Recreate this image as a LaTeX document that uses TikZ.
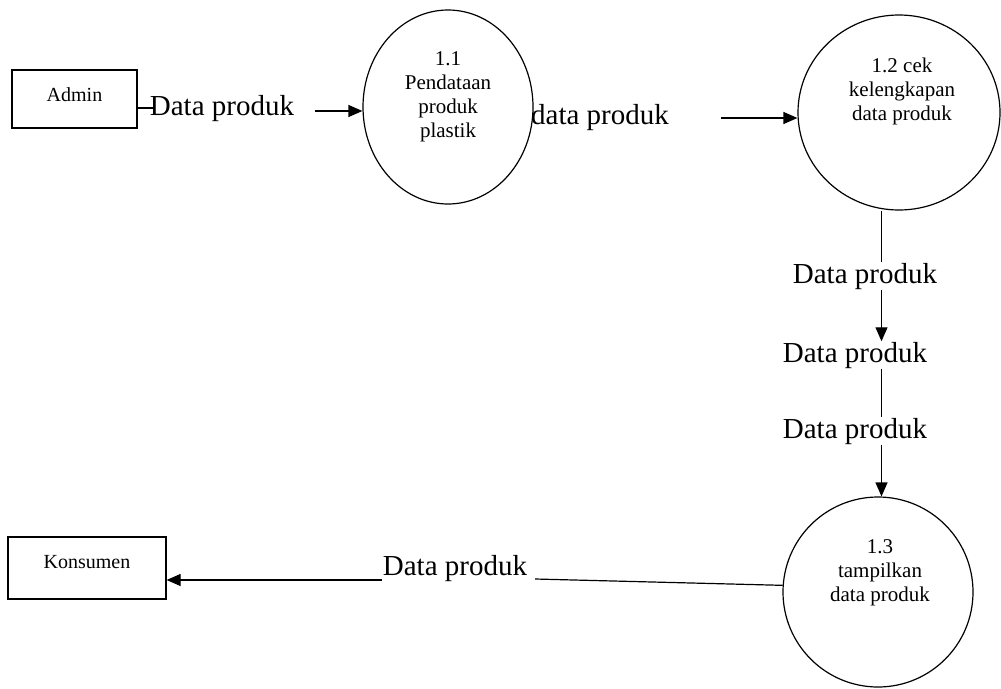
\documentclass[tikz,border=0pt]{standalone}
\usepackage{fontspec}
\setmainfont{Liberation Serif}
\usetikzlibrary{shapes.geometric,arrows.meta}
\begin{document}
\begin{tikzpicture}[x=1pt,y=-1pt,
  line width=1.2pt,
  ext/.style={draw, rectangle, inner sep=0pt},
  boxtext/.style={font=\fontsize{20}{24}\selectfont, inner sep=0pt},
  proc/.style={draw, ellipse, inner sep=0pt},
  ptext/.style={align=center, font=\fontsize{21}{24}\selectfont, inner sep=0pt},
  flow/.style={font=\fontsize{29}{34}\selectfont, inner sep=0pt, anchor=base},
  arr/.style={-{Triangle[length=14pt,width=12pt]}}]
\fill[white] (0,0) rectangle (1001,688);
\path[use as bounding box] (0,0) rectangle (1001,688);

% external entities
\node[ext, minimum width=125pt, minimum height=58pt,
      label={[boxtext,yshift=4pt]center:Admin}] (admin) at (74.5,99) {};
\node[ext, minimum width=158pt, minimum height=62pt,
      label={[boxtext,yshift=6pt]center:Konsumen}] (kons) at (87,568) {};

% processes
\node[proc, minimum width=170pt, minimum height=194pt,
      label={[ptext,yshift=10pt]center:{1.1\\Pendataan\\produk\\plastik}}] (p11) at (448,107) {};
\node[proc, minimum width=202pt, minimum height=195pt,
      label={[ptext,xshift=3pt,yshift=21pt]center:{1.2 cek\\kelengkapan\\data produk}}] (p12) at (899,112.5) {};
\node[proc, minimum width=190pt, minimum height=190pt,
      label={[ptext,xshift=2pt,yshift=19pt]center:{1.3\\tampilkan\\data produk}}] (p13) at (878,592) {};

% Admin -> 1.1
\coordinate (a1) at (155,108);
\draw (admin.east |- a1) -- (a1);
\node[flow] (l1) at (222,115) {Data produk};
\coordinate (a2) at (315,111);
\draw[arr] (a2) -- (a2 -| p11.west);

% 1.1 -> 1.2
\node[flow] (l2) at (600,124) {data produk};
\coordinate (b1) at (721,118);
\draw[arr] (b1) -- (b1 -| p12.west);

% 1.2 -> 1.3
\node[flow] (l3) at (865,283) {Data produk};
\node[flow] (l4) at (855,362) {Data produk};
\node[flow] (l5) at (855,438) {Data produk};
\coordinate (vx) at (881.5,0);
\draw (vx |- p12.south) -- (vx |- l3.north);
\draw[arr] (vx |- l3.south) -- (vx |- l4.north);
\draw (vx |- l4.south) -- (vx |- l5.north);
\draw[arr] (vx |- l5.south) -- (vx |- p13.north);

% 1.3 -> Konsumen
\node[flow] (l6) at (455,575) {Data produk};
\coordinate (c1) at (535,579);
\draw (p13.176) -- (c1);
\coordinate (c2) at (382,580);
\draw[arr] (c2) -- (kons.east |- c2);
\end{tikzpicture}
\end{document}
